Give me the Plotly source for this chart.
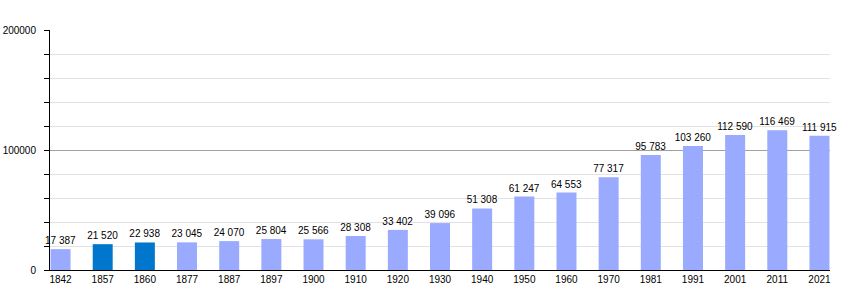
import plotly.graph_objects as go

years = ["1842", "1857", "1860", "1877", "1887", "1897", "1900", "1910", "1920", "1930",
         "1940", "1950", "1960", "1970", "1981", "1991", "2001", "2011", "2021"]
population = [17387, 21520, 22938, 23045, 24070, 25804, 25566, 28308, 33402, 39096,
              51308, 61247, 64553, 77317, 95783, 103260, 112590, 116469, 111915]
highlight_years = ["1857", "1860"]

LIGHT = "#99aaff"
DARK = "#0077cc"

x_idx = list(range(len(years)))
colors = [DARK if y in highlight_years else LIGHT for y in years]
labels = [f"{v:,}".replace(",", " ") for v in population]

fig = go.Figure(go.Bar(
    x=x_idx, y=population, width=0.474,
    marker=dict(color=colors, line=dict(width=0)),
    text=labels, textposition="outside", cliponaxis=False,
    constraintext="none",
    textfont=dict(family="Liberation Sans, Arial, sans-serif", size=10, color="black"),
    hoverinfo="x+y",
))

fig.update_layout(
    width=860, height=300,
    margin=dict(l=50, r=30, t=30, b=30, autoexpand=False),
    paper_bgcolor="white", plot_bgcolor="white",
    font=dict(family="Liberation Sans, Arial, sans-serif", size=10, color="black"),
    showlegend=False,
    bargap=0.5,
)
fig.update_xaxes(
    range=[-0.25, 18.25],
    tickmode="array", tickvals=x_idx, ticktext=years,
    showline=True, linecolor="black", linewidth=1,
    showgrid=False, ticks="", zeroline=False, automargin=False,
    tickfont=dict(size=10, color="black"),
)
fig.update_yaxes(
    range=[0, 200000],
    tickmode="linear", tick0=0, dtick=100000, tickformat="d",
    ticks="outside", ticklen=5, tickcolor="black",
    showline=True, linecolor="black", linewidth=1,
    showgrid=True, gridcolor="#a0a0a0", gridwidth=1,
    zeroline=False, automargin=False,
    minor=dict(dtick=20000, ticks="outside", ticklen=5, tickcolor="black",
               showgrid=True, gridcolor="#e2e2e2", gridwidth=1),
    ticklabelstandoff=6,
    tickfont=dict(size=10, color="black"),
)

fig.write_html("out.html")
